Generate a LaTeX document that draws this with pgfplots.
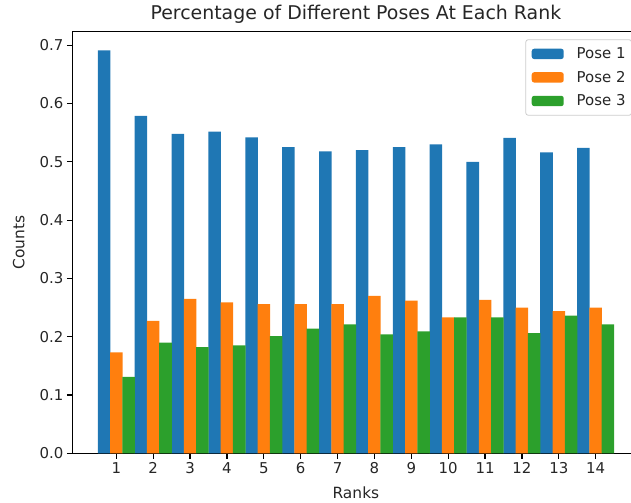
\documentclass[border=0pt]{standalone}
\usepackage{pgfplots}
\pgfplotsset{compat=1.18}
\usepackage{pgfplotstable}
\usepackage{fontspec}
\setmainfont{DejaVu Sans}
\definecolor{c1}{HTML}{1F77B4}
\definecolor{c2}{HTML}{FF7F0E}
\definecolor{c3}{HTML}{2CA02C}
\definecolor{legframe}{HTML}{CCCCCC}

\pgfplotstableread{
rank p1 p2 p3
1 0.691 0.173 0.131
2 0.579 0.227 0.190
3 0.548 0.265 0.182
4 0.552 0.259 0.185
5 0.542 0.256 0.201
6 0.525 0.256 0.214
7 0.518 0.256 0.221
8 0.520 0.270 0.204
9 0.525 0.262 0.209
10 0.530 0.233 0.233
11 0.500 0.263 0.233
12 0.541 0.250 0.206
13 0.516 0.244 0.236
14 0.524 0.250 0.221
}\data

\begin{document}
\begin{tikzpicture}
\useasboundingbox (0,0) rectangle (631bp,503bp);
\clip (0,0) rectangle (631bp,503bp);
\begin{axis}[
  at={(72.3bp,49.7bp)}, anchor=south west,
  width=567.2bp, height=421.6bp, scale only axis,
  xmin=-0.195, xmax=15.19, ymin=0, ymax=0.7232,
  ybar,
  bar width=0.34,
  xtick={1,2,3,4,5,6,7,8,9,10,11,12,13,14},
  ytick={0,0.1,0.2,0.3,0.4,0.5,0.6,0.7},
  tick pos=left,
  tick align=outside,
  major tick length=5.5bp,
  every tick/.style={black, line width=1.2bp},
  axis line style={black, line width=1.2bp},
  /pgf/number format/assume math mode=true,
  yticklabel style={/pgf/number format/.cd, fixed, fixed zerofill, precision=1},
  tick label style={font=\fontsize{15}{18}\selectfont, text=black!85},
  xlabel={Ranks},
  every axis x label/.style={at={(axis description cs:0.5,0)}, anchor=north, yshift=-33.4bp, inner sep=0pt, font=\fontsize{15.5}{18}\selectfont, text=black!85},
  title={Percentage of Different Poses At Each Rank},
  every axis title/.style={at={(axis description cs:0.5,1)}, anchor=base, yshift=12.4bp, inner sep=0pt, font=\fontsize{19}{22}\selectfont, text=black!85},
  legend image code/.code={\fill[#1] (0bp,-5.2bp) rectangle (32bp,5.2bp);},
  legend cell align=left,
  legend style={at={(1,1)}, anchor=north east, xshift=-7.5bp, yshift=-7.6bp,
    draw=legframe, line width=0.8bp, rounded corners=2.5bp, fill=white,
    inner xsep=6bp, inner ysep=8bp, row sep=11bp,
    font=\fontsize{15}{18}\selectfont, text=black!85,
    nodes={inner sep=0pt},
    /tikz/every odd column/.append style={column sep=13bp}},
]
\addplot[fill=c1, draw=none, bar shift=-0.333] table[x=rank, y=p1]{\data};
\addplot[fill=c2, draw=none, bar shift=0] table[x=rank, y=p2]{\data};
\addplot[fill=c3, draw=none, bar shift=0.333] table[x=rank, y=p3]{\data};
\legend{Pose 1, Pose 2, Pose 3}
\end{axis}
\node[rotate=90, inner sep=0pt, font=\fontsize{15.5}{18}\selectfont, text=black!85] at (18.7bp,260.5bp) {Counts};
\end{tikzpicture}
\end{document}
